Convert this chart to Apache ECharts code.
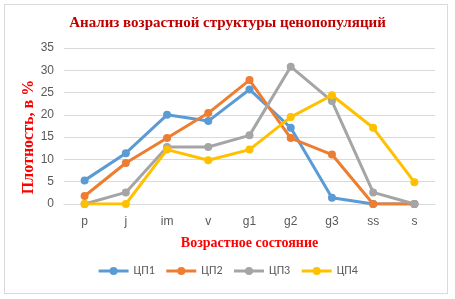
<!DOCTYPE html>
<html>
<head>
<meta charset="utf-8">
<script src="https://cdn.jsdelivr.net/npm/echarts@6/dist/echarts.min.js"></script>
<style>
  html, body { margin: 0; padding: 0; background: #fff; }
  #chart { width: 455px; height: 299px; }
  .frame { position: absolute; left: 4px; top: 4px; width: 444px; height: 290px; border: 1px solid #d9d9d9; box-sizing: border-box; pointer-events: none; }
</style>
</head>
<body>
<div id="chart"></div>
<div class="frame"></div>
<script>
const categories = ['p', 'j', 'im', 'v', 'g1', 'g2', 'g3', 'ss', 's']
const seriesNames = ['ЦП1', 'ЦП2', 'ЦП3', 'ЦП4']
const cp1 = [5.3, 11.4, 20.0, 18.6, 25.7, 17.1, 1.4, 0, 0]
const cp2 = [1.8, 9.2, 14.8, 20.4, 27.8, 14.8, 11.1, 0, 0]
const cp3 = [0, 2.6, 12.8, 12.8, 15.4, 30.8, 23.1, 2.6, 0]
const cp4 = [0, 0, 12.2, 9.8, 12.2, 19.5, 24.4, 17.1, 4.9]
const colors = ['#5b9bd5', '#ed7d31', '#a5a5a5', '#ffc000']

const chart = echarts.init(document.getElementById('chart'))
const serif = '"Liberation Serif", "DejaVu Serif", serif'

const option = {
  animation: false,
  title: {
    text: 'Анализ возрастной структуры ценопопуляций',
    left: 'center',
    top: 11,
    textStyle: { color: '#c00000', fontFamily: serif, fontWeight: 'bold', fontSize: 15 }
  },
  legend: {
    data: seriesNames,
    bottom: 17,
    left: 'center',
    itemWidth: 30,
    itemHeight: 10,
    itemGap: 10,
    lineStyle: { width: 3 },
    textStyle: { color: '#595959', fontSize: 12, fontFamily: 'Calibri, "Liberation Sans", sans-serif' }
  },
  grid: { left: 64, right: 20, top: 48, bottom: 95 },
  xAxis: {
    type: 'category',
    data: categories,
    name: 'Возрастное состояние',
    nameLocation: 'middle',
    nameGap: 32,
    nameTextStyle: { color: '#ff0000', fontFamily: serif, fontWeight: 'bold', fontSize: 14 },
    axisLine: { lineStyle: { color: '#d9d9d9' } },
    axisTick: { show: false },
    axisLabel: { color: '#595959', fontSize: 12, margin: 12 }
  },
  yAxis: {
    type: 'value',
    min: 0,
    max: 35,
    interval: 5,
    name: 'Плотность, в %',
    nameLocation: 'middle',
    nameGap: 27,
    nameMoveOverlap: false,
    nameTextStyle: { color: '#ff0000', fontFamily: serif, fontWeight: 'bold', fontSize: 16, padding: [0, 22, 0, 0] },
    axisLine: { show: false },
    axisTick: { show: false },
    splitLine: { lineStyle: { color: '#d9d9d9' } },
    axisLabel: { color: '#595959', fontSize: 12, margin: 10 }
  },
  series: [cp1, cp2, cp3, cp4].map((d, i) => ({
    name: seriesNames[i],
    type: 'line',
    data: d,
    symbol: 'circle',
    symbolSize: 8,
    lineStyle: { width: 3, color: colors[i] },
    itemStyle: { color: colors[i] }
  }))
}

chart.setOption(option)
</script>
</body>
</html>
